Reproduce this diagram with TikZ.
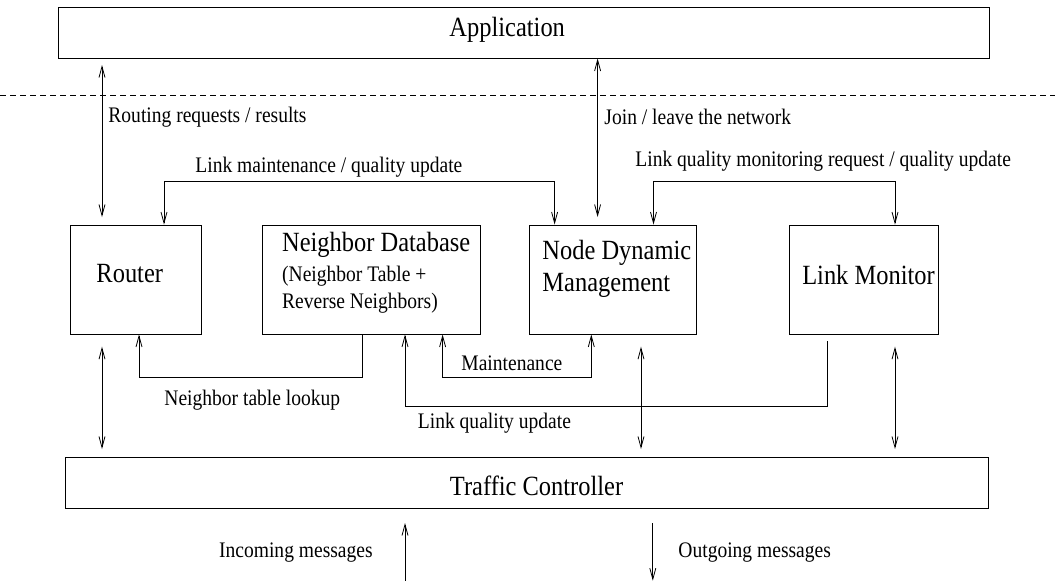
\documentclass[tikz,border=0pt]{standalone}
\usepackage{fontspec}
\setmainfont{Liberation Serif}[FakeStretch=0.88]
\usetikzlibrary{arrows.meta}
\begin{document}
\begin{tikzpicture}[x=1pt,y=-1pt,
  line width=0.9pt,
  >={Straight Barb[length=11pt,width=6pt,line width=0.8pt]},
  block/.style={draw,rectangle,inner sep=0pt,minimum width=#1},
  big/.style={font=\fontsize{27.8}{32}\selectfont,inner sep=0pt,anchor=west},
  small/.style={font=\fontsize{22.2}{27}\selectfont,inner sep=0pt,anchor=west}]
\useasboundingbox (0,0) rectangle (1055,582);

% layer boxes
\node[block=930.5, minimum height=51] (app) at (523.75,32.5) {};
\node[block=923, minimum height=51] (tc) at (526.5,482.5) {};
% component boxes
\node[block=130.3, minimum height=109] (router) at (135.85,279.5) {};
\node[block=217.3, minimum height=109] (ndb) at (371.35,279.5) {};
\node[block=167.1, minimum height=109] (ndm) at (613.05,279.5) {};
\node[block=148.7, minimum height=109] (lm) at (863.65,279.5) {};

% box texts
\node[big] (tApp) at (449,30) {Application};
\node[big] (tTc) at (449.5,486) {Traffic Controller};
\node[big] (tRouter) at (96,274) {Router};
\node[big] (tNdb) at (281.7,245) {Neighbor Database};
\node[small] (tNdbA) at (281.7,276) {(Neighbor Table +};
\node[small] (tNdbB) at (281.7,303) {Reverse Neighbors)};
\node[big] (tNdmA) at (542,252.7) {Node Dynamic};
\node[big] (tNdmB) at (542,285) {Management};
\node[big] (tLm) at (801.8,275) {Link Monitor};

% layer separator
\draw[dash pattern=on 6pt off 4pt, line width=0.8pt] (0,95) -- (1055,95);

% free ends of the vertical links
\coordinate (rtTop) at (102,65);
\coordinate (rtBot) at (102,217);
\coordinate (jnBot) at (597.6,217);
\coordinate (lqStart) at (827,341);
\coordinate (rTcA) at (102,346.7);
\coordinate (rTcB) at (102,449);
\coordinate (nTcA) at (641,346.7);
\coordinate (nTcB) at (641,449);
\coordinate (mTcA) at (895,346.7);
\coordinate (mTcB) at (895,449);
\coordinate (inA) at (405,580.7);
\coordinate (inB) at (405,523);
\coordinate (outA) at (652.8,523);
\coordinate (outB) at (652.8,580.7);

% application interface
\draw[<->] (rtTop) -- (rtBot);
\draw[<->] (jnBot) -- (jnBot |- app.south);

% links among components
\draw[<->] (164,0 |- router.north) -- (164,181.7) -- (554.6,181.7) -- (554.6,0 |- ndm.north);
\draw[<->] (653.5,0 |- ndm.north) -- (653.5,181.7) -- (895,181.7) -- (895,0 |- lm.north);
\draw[->] (362,0 |- ndb.south) -- (362,377.7) -- (139,377.7) -- (139,0 |- router.south);
\draw[<->] (442.6,0 |- ndb.south) -- (442.6,377.7) -- (591.3,377.7) -- (591.3,0 |- ndm.south);
\draw[->] (lqStart) -- (827,406.7) -- (405,406.7) -- (405,0 |- ndb.south);

% traffic controller interface
\draw[<->] (rTcA) -- (rTcB);
\draw[<->] (nTcA) -- (nTcB);
\draw[<->] (mTcA) -- (mTcB);
\draw[->] (inA) -- (inB);
\draw[->] (outA) -- (outB);

% connector labels
\node[small] (lRoute) at (108,117) {Routing requests / results};
\node[small] (lJoin) at (604,117) {Join / leave the network};
\node[small] (lMaint) at (195,167) {Link maintenance / quality update};
\node[small] (lMon) at (635,160.7) {Link quality monitoring request / quality update};
\node[small] (lLookup) at (164,400) {Neighbor table lookup};
\node[small] (lMaintB) at (461,363) {Maintenance};
\node[small] (lLqu) at (417.5,422.7) {Link quality update};
\node[small] (lIn) at (218.7,552.7) {Incoming messages};
\node[small] (lOut) at (678,552.7) {Outgoing messages};
\end{tikzpicture}
\end{document}
